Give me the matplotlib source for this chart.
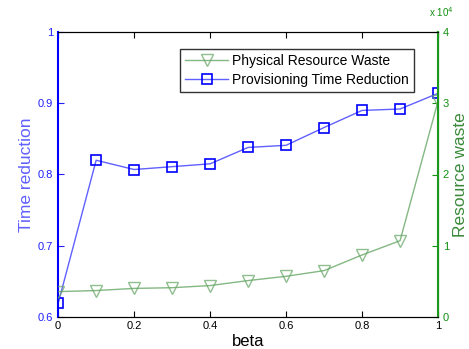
import matplotlib.pyplot as plt

# datos
beta = [0, 0.1, 0.2, 0.3, 0.4, 0.5, 0.6, 0.7, 0.8, 0.9, 1.0]
time_red = [0.619, 0.820, 0.807, 0.811, 0.815, 0.838, 0.841, 0.866, 0.890, 0.892, 0.914]
waste = [0.355, 0.37, 0.40, 0.41, 0.44, 0.51, 0.57, 0.65, 0.87, 1.07, 3.03]  # x 10^4

plt.rcParams['font.family'] = ['Liberation Sans', 'DejaVu Sans']

fig = plt.figure(figsize=(4.69, 3.49), dpi=100)
ax = fig.add_axes([0.124, 0.092, 0.810, 0.816])
ax2 = ax.twinx()

g, = ax2.plot(beta, waste, color='#5aa05a', alpha=0.75, lw=1,
              marker='v', ms=8, mfc='none', mec='#6aa86a', mew=1,
              label='Physical Resource Waste')
b, = ax.plot(beta, time_red, color='#6060ff', lw=1,
             marker='s', ms=7, mfc='none', mec='#0000ff', mew=1.2,
             label='Provisioning Time Reduction')

ax.set_xlim(0, 1)
ax.set_ylim(0.6, 1)
ax.set_yticks([0.6, 0.7, 0.8, 0.9, 1])
ax.set_yticklabels(['0.6', '0.7', '0.8', '0.9', '1'])
ax.set_xticks([0, 0.2, 0.4, 0.6, 0.8, 1])
ax.set_xticklabels(['0', '0.2', '0.4', '0.6', '0.8', '1'])
ax2.set_ylim(0, 4)
ax2.set_yticks([0, 1, 2, 3, 4])

ax.tick_params(axis='x', direction='in', top=True, labelsize=8, pad=3, length=4)
ax.tick_params(axis='y', direction='in', colors='#2020ff', labelsize=8, length=4)
ax2.tick_params(axis='y', direction='in', colors='#109010', labelsize=8, length=4)

ax.spines['left'].set_color('#0000ff')
ax.spines['left'].set_linewidth(1.5)
ax2.spines['left'].set_visible(False)
ax2.spines['right'].set_color('#1a9a1a')
ax2.spines['right'].set_linewidth(1.5)

ax.set_xlabel('beta', fontsize=12, labelpad=2)
ax.set_ylabel('Time reduction', color='#6060ff', fontsize=12.5, labelpad=3)
ax2.set_ylabel('Resource waste', color='#3a8a3a', fontsize=12.5, labelpad=3)
ax2.text(0.975, 1.045, r'x 10$^4$', transform=ax2.transAxes, fontsize=7,
         color='#109010', ha='left', va='bottom')

leg = ax2.legend([g, b], ['Physical Resource Waste', 'Provisioning Time Reduction'],
                 loc='upper right', bbox_to_anchor=(0.955, 0.965),
                 fontsize=10, frameon=True, fancybox=False, edgecolor='black',
                 handlelength=3.1, handletextpad=0.3, borderpad=0.35,
                 labelspacing=0.35)
leg.get_frame().set_linewidth(1)

fig.savefig('out.png', dpi=100)
